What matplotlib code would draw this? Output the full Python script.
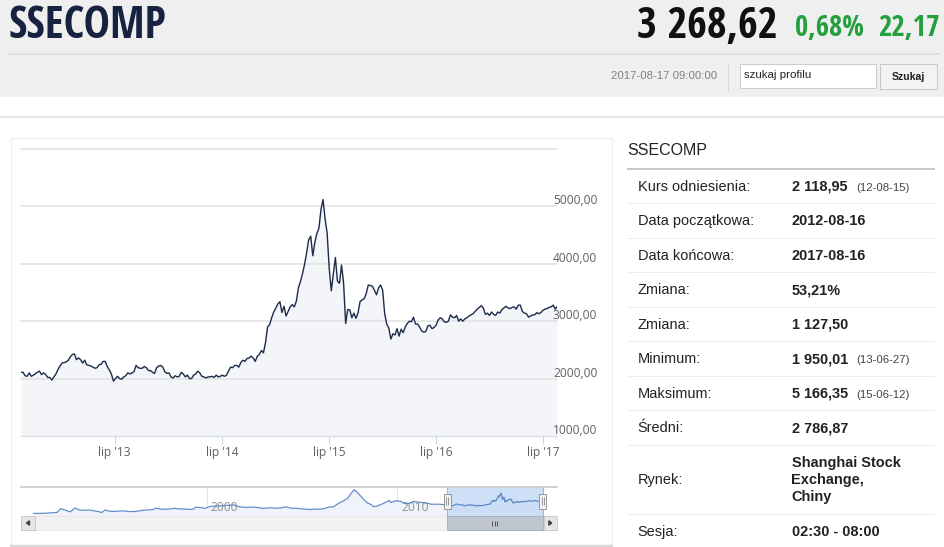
import matplotlib
matplotlib.use("Agg")
import matplotlib.pyplot as plt
import matplotlib.dates as mdates
import matplotlib.transforms as mtransforms
from matplotlib import font_manager as fm
from matplotlib.patches import Rectangle, Polygon
import pandas as pd

# ---------------- header data ----------------
TICKER = "SSECOMP"
LAST_PRICE = "3 268,62"
CHANGE_PCT = "0,68%"
CHANGE_ABS = "22,17"
QUOTE_TIME = "2017-08-17 09:00:00"
SEARCH_PLACEHOLDER = "szukaj profilu"
SEARCH_BUTTON = "Szukaj"

# ---------------- main series (weekly closes) ----------------
START_DATE = "2012-08-16"
END_DATE = "2017-08-16"
weekly_2012 = [2110, 2110, 2050, 2040, 2100, 2040, 2060, 2085, 2110, 2130, 2070, 2100, 2070, 2020,
               2020, 1975, 2030, 2080, 2160, 2220]
weekly_2013 = [2270, 2280, 2290, 2320, 2380, 2420, 2430, 2330, 2360, 2330, 2270, 2320, 2240, 2230,
               2220, 2200, 2180, 2190, 2240, 2250, 2300, 2300, 2210, 2150, 2080, 1955, 2000, 2040,
               2000, 1990, 2030, 2050, 2100, 2080, 2100, 2120, 2230, 2190, 2180, 2180, 2210, 2190,
               2140, 2140, 2110, 2090, 2190, 2220, 2230, 2200, 2120, 2090]
weekly_2014 = [2100, 2030, 2010, 2050, 2030, 2040, 2110, 2080, 2030, 2060, 2000, 2000, 2060, 2080,
               2130, 2100, 2040, 2030, 2010, 2030, 2030, 2040, 2020, 2060, 2030, 2040, 2060, 2040,
               2060, 2130, 2200, 2190, 2230, 2230, 2200, 2280, 2320, 2300, 2350, 2360, 2390, 2360,
               2300, 2390, 2420, 2490, 2450, 2630, 2900, 2940, 3060, 3160]
weekly_2015 = [3230, 3300, 3340, 3150, 3260, 3090, 3170, 3250, 3290, 3250, 3350, 3580, 3690, 3830,
               3990, 4190, 4420, 4480, 4140, 4370, 4530, 4620, 4950, 5120, 4780, 4530, 3920, 3530,
               3820, 4110, 3700, 3660, 3980, 3660, 2960, 3200, 3200, 3060, 3140, 3050, 3140, 3340,
               3370, 3390, 3480, 3630, 3620, 3610, 3540, 3460, 3580, 3630, 3540]
weekly_2016 = [3130, 2950, 2880, 2690, 2780, 2760, 2870, 2740, 2860, 2800, 2900, 2960, 3000, 2990,
               3070, 2950, 2950, 2900, 2830, 2810, 2820, 2920, 2930, 2870, 2890, 2930, 3020, 3060,
               3040, 2990, 2980, 3000, 3110, 3070, 3060, 3100, 3000, 3040, 3000, 3040, 3060, 3090,
               3110, 3130, 3170, 3210, 3240, 3270, 3230, 3120, 3140, 3100]
weekly_2017 = [3160, 3120, 3100, 3160, 3140, 3200, 3230, 3260, 3230, 3220, 3240, 3250, 3210, 3280,
               3280, 3170, 3140, 3130, 3070, 3090, 3110, 3110, 3150, 3130, 3150, 3190, 3210, 3220,
               3240, 3250, 3280, 3210, 3250]
close_values = weekly_2012 + weekly_2013 + weekly_2014 + weekly_2015 + weekly_2016 + weekly_2017

Y_TICKS = [1000, 2000, 3000, 4000, 5000, 6000]
Y_LABELED = [1000, 2000, 3000, 4000, 5000]
X_TICK_DATES = ["2013-07-01", "2014-07-01", "2015-07-01", "2016-07-01", "2017-07-01"]
X_TICK_LABELS = ["lip '13", "lip '14", "lip '15", "lip '16", "lip '17"]

# ---------------- navigator (long history before the main window) ----------------
NAV_HIST_DATES = ["1990-12", "1991-03", "1991-06", "1991-09", "1991-12",
                  "1992-03", "1992-05", "1992-08", "1992-11",
                  "1993-02", "1993-05", "1993-08", "1993-11",
                  "1994-02", "1994-05", "1994-07", "1994-09", "1994-12",
                  "1995-03", "1995-06", "1995-09", "1995-12",
                  "1996-03", "1996-06", "1996-09", "1996-12",
                  "1997-03", "1997-05", "1997-08", "1997-11",
                  "1998-02", "1998-05", "1998-08", "1998-11",
                  "1999-02", "1999-05", "1999-06", "1999-09", "1999-12",
                  "2000-03", "2000-06", "2000-09", "2000-12",
                  "2001-03", "2001-06", "2001-09", "2001-12",
                  "2002-03", "2002-06", "2002-09", "2002-12",
                  "2003-03", "2003-06", "2003-09", "2003-12",
                  "2004-03", "2004-06", "2004-09", "2004-12",
                  "2005-03", "2005-06", "2005-09", "2005-12",
                  "2006-03", "2006-06", "2006-09", "2006-12",
                  "2007-03", "2007-06", "2007-08", "2007-10", "2007-12",
                  "2008-02", "2008-04", "2008-06", "2008-08", "2008-10", "2008-12",
                  "2009-03", "2009-05", "2009-08", "2009-09", "2009-12",
                  "2010-03", "2010-06", "2010-09", "2010-11",
                  "2011-02", "2011-05", "2011-08", "2011-11",
                  "2012-02", "2012-05", "2012-07"]
NAV_HIST_VALUES = [100, 120, 140, 190, 290,
                   380, 1300, 900, 500,
                   1450, 950, 900, 950,
                   750, 550, 350, 950, 650,
                   600, 700, 720, 560,
                   570, 700, 900, 980,
                   1050, 1400, 1180, 1150,
                   1200, 1380, 1200, 1200,
                   1100, 1200, 1650, 1550, 1380,
                   1800, 1920, 1920, 2070,
                   2100, 2220, 1800, 1650,
                   1620, 1700, 1580, 1380,
                   1450, 1500, 1380, 1490,
                   1740, 1400, 1390, 1270,
                   1180, 1080, 1160, 1160,
                   1300, 1680, 1750, 2600,
                   3180, 3900, 5100, 5950, 5250,
                   4350, 3500, 2750, 2400, 1800, 1900,
                   2350, 2700, 3300, 2800, 3250,
                   3100, 2500, 2650, 3050,
                   2900, 2800, 2600, 2350,
                   2400, 2350, 2150]
NAV_LABEL_YEARS = ["2000", "2010"]

# ---------------- side table ----------------
TABLE_LABELS = ["Kurs odniesienia:", "Data początkowa:", "Data końcowa:", "Zmiana:", "Zmiana:",
                "Minimum:", "Maksimum:", "Średni:", "Rynek:", "Sesja:"]
TABLE_VALUES = ["2 118,95", "2012-08-16", "2017-08-16", "53,21%", "1 127,50",
                "1 950,01", "5 166,35", "2 786,87", "Shanghai Stock\nExchange,\nChiny", "02:30 - 08:00"]
TABLE_NOTES = ["(12-08-15)", "", "", "", "", "(13-06-27)", "(15-06-12)", "", "", ""]

# =====================================================================
FW, FH = 945, 547
PT = 0.72  # points per pixel at dpi 100
fig = plt.figure(figsize=(FW / 100, FH / 100), dpi=100, facecolor="white")
page = fig.add_axes([0, 0, 1, 1])
page.set_xlim(0, FW); page.set_ylim(FH, 0); page.axis("off")


def panel(x0, y0, x1, y1):
    return fig.add_axes([x0 / FW, 1 - y1 / FH, (x1 - x0) / FW, (y1 - y0) / FH])


names = {f.name for f in fm.fontManager.ttflist}


def pick(*cands):
    for n in cands:
        if n in names:
            return n
    return "DejaVu Sans"


SANS = pick("Liberation Sans", "Arial")
UI = pick("Open Sans", "Liberation Sans")
NARROW = pick("Liberation Sans Narrow", "Open Sans Condensed", "Asap Condensed", "Archivo Narrow",
              "Roboto Condensed", "DejaVu Sans")


def hline(ax, x0, x1, y, color, px, z=2):
    ax.plot([x0, x1], [y, y], color=color, lw=px * PT, solid_capstyle="butt", zorder=z)


def vline(ax, x, y0, y1, color, px, z=2):
    ax.plot([x, x], [y0, y1], color=color, lw=px * PT, solid_capstyle="butt", zorder=z)


def box(ax, x0, y0, x1, y1, face, edge="none", px=1, z=1):
    ax.add_patch(Rectangle((x0, y0), x1 - x0, y1 - y0, facecolor=face, edgecolor=edge,
                           lw=px * PT, zorder=z))


renderer = fig.canvas.get_renderer()


def fit_width(t, w):
    bb = t.get_window_extent(renderer=renderer)
    t.set_fontsize(t.get_fontsize() * w / bb.width)


# ---------------- header ----------------
box(page, 0, 0, FW, 96.7, "#efefef")
hline(page, 8, 940, 54, "#dcdcdc", 1.5)
t = page.text(8, 26, TICKER, ha="left", va="center", fontsize=27, fontweight="bold",
              color="#16223f", family=NARROW)
fit_width(t, 157)
t = page.text(637, 26, LAST_PRICE, ha="left", va="center", fontsize=27, fontweight="bold",
              color="#111111", family=NARROW)
fit_width(t, 141)
t = page.text(795, 28, CHANGE_PCT, ha="left", va="center", fontsize=18, fontweight="bold",
              color="#23a03d", family=NARROW)
fit_width(t, 69)
t = page.text(940, 28, CHANGE_ABS, ha="right", va="center", fontsize=18, fontweight="bold",
              color="#23a03d", family=NARROW)
fit_width(t, 62)
page.text(717, 76, QUOTE_TIME, ha="right", va="center", fontsize=11.4 * PT, color="#808080", family=SANS)
vline(page, 728, 63, 91, "#d8d8d8", 1)
box(page, 740, 64, 876, 88, "white", "#cccccc", 1, z=2)
page.text(744, 75.5, SEARCH_PLACEHOLDER, ha="left", va="center", fontsize=11.5 * PT, color="#222222",
          family=SANS, zorder=3)
box(page, 880, 64, 937, 89, "#f3f3f3", "#c8c8c8", 1, z=2)
page.text(908.5, 77, SEARCH_BUTTON, ha="center", va="center", fontsize=10.5 * PT, fontweight="bold",
          color="#222222", family=SANS, zorder=3)

hline(page, 0, FW, 117.3, "#e9e9e9", 2.5)

# chart panel frame
box(page, 10.5, 138.3, 612, 545, "white", "#ececec", 1, z=1)
hline(page, 10, 612.5, 545.5, "#d9d9d9", 2.5)

# ---------------- main chart ----------------
dates = list(pd.date_range(START_DATE, periods=len(close_values) - 1, freq="7D")) + [pd.Timestamp(END_DATE)]
ax = panel(21, 149, 557, 436)
ax.set_facecolor("none")
ax.set_xlim(dates[0], dates[-1])
ax.set_ylim(Y_TICKS[0], Y_TICKS[-1])
for s in ["top", "left", "right"]:
    ax.spines[s].set_visible(False)
ax.spines["bottom"].set_color("#d3dae6")
ax.spines["bottom"].set_linewidth(1.2 * PT)
ax.fill_between(dates, close_values, Y_TICKS[0], color="#f4f5f8", lw=0, zorder=1)
for v in Y_TICKS[1:]:
    ax.axhline(v, color="#e3e3e3", lw=1.6 * PT, zorder=1.5, clip_on=False)
ax.plot(dates, close_values, color="#1d2c4b", lw=1.4 * PT, zorder=3, solid_joinstyle="round")
ax.set_yticks([])
ax.set_xticks([pd.Timestamp(d) for d in X_TICK_DATES])
ax.set_xticklabels(X_TICK_LABELS)
ax.tick_params(axis="x", length=8 * PT, width=1 * PT, color="#ccd6eb", pad=2 * PT,
               labelsize=12 * PT, labelcolor="#606060")
for lab in ax.get_xticklabels():
    lab.set_family(UI)
ytr = mtransforms.offset_copy(mtransforms.blended_transform_factory(ax.transAxes, ax.transData),
                              fig=fig, x=-4, y=2, units="dots")
for v in Y_LABELED:
    ax.text(1.0, v, f"{v:.2f}".replace(".", ","), transform=ytr, ha="left", va="baseline",
            fontsize=12 * PT, color="#606060", family=UI, clip_on=False)

# ---------------- navigator ----------------
nav_dates = [pd.Timestamp(d) for d in NAV_HIST_DATES] + dates
nav_vals = NAV_HIST_VALUES + close_values
nav = panel(21, 486.7, 557, 515.7)
nav.set_facecolor("none")
d_a = mdates.date2num(pd.Timestamp(NAV_LABEL_YEARS[0] + "-01-01"))
d_b = mdates.date2num(pd.Timestamp(NAV_LABEL_YEARS[1] + "-01-01"))
ppd = (397.3 - 206.7) / (d_b - d_a)
nav.set_xlim(d_a - (206.7 - 21) / ppd, d_a + (557 - 206.7) / ppd)
nav.set_ylim(-450, 6700)
for s in ["bottom", "left", "right"]:
    nav.spines[s].set_visible(False)
nav.spines["top"].set_color("#c8c8c8")
nav.spines["top"].set_linewidth(1.6 * PT)
nav.set_xticks([]); nav.set_yticks([])
ntr = mtransforms.offset_copy(mtransforms.blended_transform_factory(nav.transData, nav.transAxes),
                              fig=fig, x=4, y=0, units="dots")
for yr in NAV_LABEL_YEARS:
    d = pd.Timestamp(yr + "-01-01")
    nav.axvline(d, color="#e6e6e6", lw=1 * PT, zorder=0.5)
    nav.text(d, 0.27, yr, transform=ntr, ha="left", va="center", fontsize=12 * PT,
             color="#909090", family=UI, zorder=1.6)
nav.fill_between(nav_dates, nav_vals, -450, color="#f0f3f9", lw=0, zorder=1)
nav.axvspan(dates[0], dates[-1], color=(0.76, 0.85, 0.96, 0.8), lw=0, zorder=1.5)
nav.plot(nav_dates, nav_vals, color="#5f8ac7", lw=1.2 * PT, zorder=2)

sx0 = nav.transData.transform((mdates.date2num(dates[0]), 0))[0]
sx1 = nav.transData.transform((mdates.date2num(dates[-1]), 0))[0]

over = fig.add_axes([0, 0, 1, 1])
over.set_xlim(0, FW); over.set_ylim(FH, 0); over.axis("off")

# scrollbar
box(over, 21, 516, 557, 530, "#f2f2f2", "#e8e8e8", 1)
box(over, 21, 516, 35, 530, "#e6e6e6", "#cccccc", 1, z=2)
box(over, 543.5, 516, 557, 530, "#e6e6e6", "#cccccc", 1, z=2)
over.add_patch(Polygon([(26.5, 523), (29.5, 520.8), (29.5, 525.2)], closed=True, color="#444444", zorder=3))
over.add_patch(Polygon([(551.8, 523), (548.8, 520.8), (548.8, 525.2)], closed=True, color="#444444", zorder=3))
box(over, sx0, 516, sx1, 530, "#bfc6d0", "#aab1bb", 1, z=2)
cx = (sx0 + sx1) / 2
for dx in (-2.5, 0, 2.5):
    vline(over, cx + dx, 520.5, 526, "#555555", 1, z=3)
# selection outline + handles
for sx in (sx0, sx1):
    vline(over, sx, 486.7, 516, "#aab4c4", 1, z=2)
    box(over, sx - 3.5, 493.5, sx + 3.5, 508.5, "#f2f2f2", "#999999", 1, z=3)
    vline(over, sx - 1, 497, 505, "#999999", 1, z=4)
    vline(over, sx + 1, 497, 505, "#999999", 1, z=4)

# ---------------- side table ----------------
page.text(627.3, 150.5, TICKER, ha="left", va="center", fontsize=16 * PT, color="#222222", family=SANS)
hline(page, 627, 935, 168.5, "#c8c8c8", 2)
ROW_H = 34.5
row_units = [1, 1, 1, 1, 1, 1, 1, 1, 2, 1]
y = 168.5
for i, (lab, val, note) in enumerate(zip(TABLE_LABELS, TABLE_VALUES, TABLE_NOTES)):
    h = ROW_H * row_units[i]
    yc = y + h / 2
    page.text(637.5, yc + 5, lab, ha="left", va="baseline", fontsize=14.5 * PT, color="#222222", family=SANS)
    lines = val.split("\n")
    for k, ln in enumerate(lines):
        yl = yc + (k - (len(lines) - 1) / 2) * 17.3
        page.text(791.5, yl + 5, ln, ha="left", va="baseline", fontsize=14.5 * PT, fontweight="bold",
                  color="#222222", family=SANS)
    if note:
        page.text(856, yc + 5, note, ha="left", va="baseline", fontsize=11.4 * PT, color="#444444", family=SANS)
    y += h
    if i < len(TABLE_LABELS) - 1:
        hline(page, 627, 935, y, "#ececec", 1)

fig.savefig("out.png", dpi=100, facecolor="white")
